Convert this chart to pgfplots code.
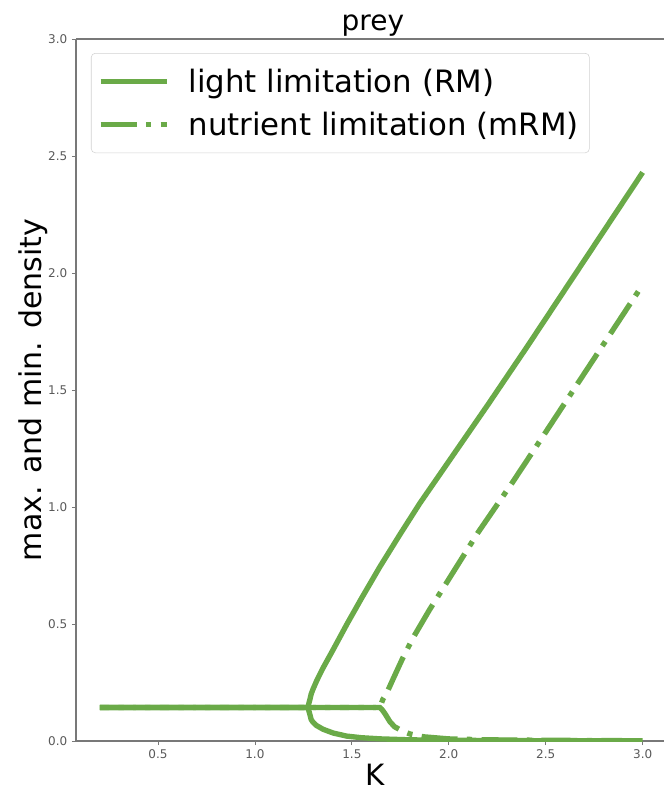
\documentclass[border=0pt]{standalone}
\usepackage{fontspec}
\setmainfont{DejaVu Sans}
\usepackage{pgfplots}
\pgfplotsset{compat=1.18}
\definecolor{grn}{RGB}{106,170,72}
\definecolor{spine}{RGB}{120,120,120}

\begin{document}
\begin{tikzpicture}
\begin{axis}[
  name=ax,
  scale only axis,
  width=441pt, height=526.5pt,
  xmin=0.0773, xmax=3.11, ymin=0, ymax=3.0,
  axis x line*=box, axis y line*=left,
  axis line style={spine, line width=0.8pt},
  xtick={0.5,1.0,1.5,2.0,2.5,3.0},
  ytick={0.0,0.5,1.0,1.5,2.0,2.5,3.0},
  xtick pos=bottom, ytick pos=left,
  tick align=outside, major tick length=3pt,
  every tick/.style={spine, line width=0.6pt},
  /pgf/number format/assume math mode=true,
  /pgf/number format/.cd, fixed, fixed zerofill, precision=1, /pgfplots/.cd,
  tick label style={font=\fontsize{9}{10}\selectfont, text=black!65},
  title={prey},
  title style={at={(axis description cs:0.505,1)}, anchor=base, yshift=0pt, font=\fontsize{21}{24}\selectfont},
  xlabel={K},
  xlabel style={at={(axis description cs:0.508,0)}, anchor=base, yshift=-33pt, font=\fontsize{22}{26}\selectfont},
  ylabel={max. and min. density},
  ylabel style={at={(axis description cs:-0.0595,0.5)}, anchor=base, font=\fontsize{22.5}{26}\selectfont},
  legend cell align=left,
  legend image code/.code={\draw[#1] (0pt,0pt) -- (50pt,0pt); \path (61pt,0pt);},
  legend style={at={(axis description cs:0.0255,0.980)}, anchor=north west,
    draw=black!18, rounded corners=3pt, fill=white, fill opacity=0.85, text opacity=1,
    font=\fontsize{23.1}{27}\selectfont, inner xsep=5pt, inner ysep=9.5pt, row sep=9.5pt,
    nodes={inner xsep=3pt}},
]
% RM max
\addplot[grn, line width=4pt] coordinates {
(0.2,0.143)(0.5,0.143)(1.0,0.143)(1.275,0.143)(1.278,0.16)(1.283,0.175)(1.29,0.20)
(1.30,0.222)(1.32,0.26)(1.35,0.31)(1.40,0.385)(1.475,0.50)(1.55,0.61)(1.645,0.745)
(1.75,0.885)(1.85,1.015)(2.0,1.195)(2.2,1.435)(2.4,1.68)(2.6,1.93)(2.8,2.18)(3.0,2.43)};
\addlegendentry{light limitation (RM)}
% mRM max
\addplot[grn, line width=4pt, line cap=butt, dash pattern=on 27pt off 7pt on 4pt off 7pt] coordinates {
(0.2,0.143)(1.0,0.143)(1.645,0.143)(1.652,0.16)(1.66,0.178)(1.68,0.205)(1.71,0.26)
(1.76,0.35)(1.815,0.44)(1.9,0.56)(1.98,0.665)(2.15,0.89)(2.33,1.107)(2.5,1.32)
(2.75,1.635)(3.0,1.95)};
\addlegendentry{nutrient limitation (mRM)}
% RM min
\addplot[grn, line width=4pt, forget plot] coordinates {
(0.2,0.143)(1.275,0.143)(1.278,0.13)(1.283,0.115)(1.29,0.092)(1.30,0.080)(1.318,0.066)
(1.352,0.05)(1.404,0.034)(1.473,0.021)(1.55,0.014)(1.65,0.009)(1.8,0.005)(2.0,0.003)
(2.5,0.0012)(3.0,0.0005)};
% mRM min
\addplot[grn, line width=4pt, line cap=butt, dash pattern=on 27pt off 7pt on 4pt off 7pt, dash phase=20pt, forget plot] coordinates {
(0.2,0.143)(1.645,0.143)(1.655,0.135)(1.67,0.118)(1.696,0.083)(1.72,0.061)(1.76,0.043)
(1.80,0.03)(1.87,0.018)(2.0,0.009)(2.2,0.005)(2.5,0.003)(3.0,0.001)};
\end{axis}
\pgfresetboundingbox
\path[use as bounding box] ([xshift=-57pt,yshift=-38.25pt]ax.south west) rectangle ([xshift=0.5pt,yshift=29.25pt]ax.north east);
\end{tikzpicture}
\end{document}
